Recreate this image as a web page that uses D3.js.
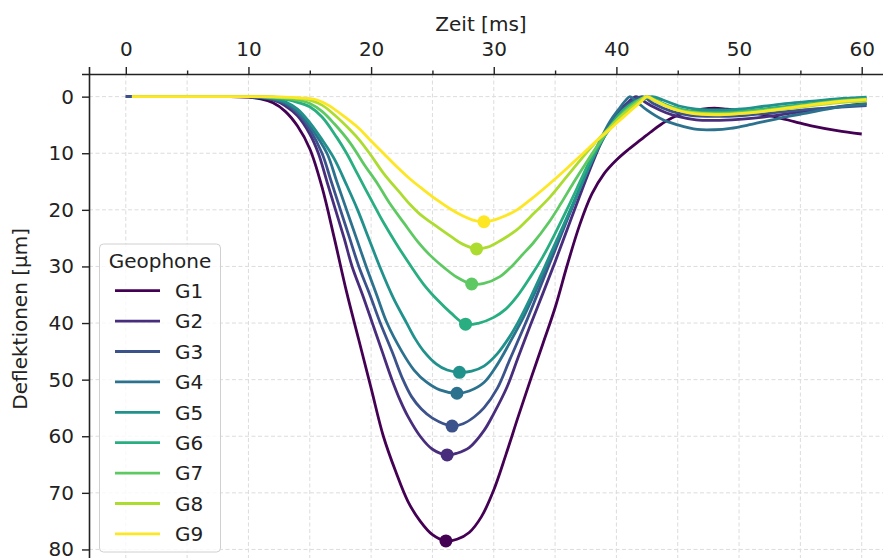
<!DOCTYPE html>
<html>
<head>
<meta charset="utf-8">
<script src="https://cdn.jsdelivr.net/npm/d3@7"></script>
<style>
  html, body { margin: 0; padding: 0; background: #fff; }
  svg { display: block; font-family: "DejaVu Sans", sans-serif; }
</style>
</head>
<body>
<svg id="chart" width="883" height="558"></svg>
<script>
// Geophone deflection traces: [time in ms, deflection in µm]
const geophone1 = [[0,0],[4,0],[8,0],[10,0.1],[11,0.4],[12,1.1],[13,2.6],[14,5.2],[15,9.2],[16,16],[17,25],[18,34.5],[19,43],[20,51.5],[21,60],[22,66.2],[23,71.5],[24,75],[25,77.4],[26.1,78.5],[27,78.2],[28,77],[29,74.2],[30,69.5],[31,63.2],[32,56.5],[33,50],[34,43.7],[35,37.3],[36,29.7],[37,22.7],[38,17.2],[39,13.6],[40,11.2],[41,9.3],[42,7.6],[43,5.9],[44,4.4],[45,3.3],[46,2.6],[47,2.2],[48,2.05],[49,2.2],[50,2.4],[51.5,3.0],[53,3.6],[54.5,4.4],[56,5.2],[58,6.0],[60,6.6]];
const geophone2 = [[0,0],[4,0],[8,0],[10,0.05],[11,0.2],[12,0.6],[13,1.6],[14,3.4],[15,6.6],[15.7,10],[16.4,15],[17.1,20],[17.8,25],[18.45,30],[19.3,35],[20.1,40],[20.9,45],[21.7,50],[22.4,53.8],[23,56.5],[24,60],[25,62.3],[26.2,63.3],[27,63],[28,62],[29.2,59],[30,56],[31.1,51.2],[32,46],[33,40.3],[34,34.8],[35,29.2],[36,23.4],[37,17.6],[38,12],[38.7,8.4],[39.5,5],[40.2,2.7],[41,0.9],[41.6,0],[42.3,0.9],[43,1.8],[44,2.8],[45,3.5],[46.5,4.1],[48,4.2],[50,4.0],[52,3.6],[54,3.0],[56,2.4],[58,1.8],[60.4,1.2]];
const geophone3 = [[0,0],[4,0],[8,0],[10,0],[11,0.15],[12,0.5],[13,1.3],[14,2.9],[15,5.8],[16,10],[16.75,15],[17.5,20],[18.25,25],[19,30],[19.9,35],[20.75,40],[21.7,45],[22.6,50],[23.3,53],[24.1,55.2],[25,56.8],[26.6,58.2],[27.5,57.8],[28.4,56.6],[29.2,55],[30.3,51.5],[31.3,46.5],[32.6,40],[33.5,35.2],[34.5,29.8],[35.5,24.4],[36.5,19],[37.5,13.8],[38.7,8],[39.5,5],[40.2,2.9],[41,1.2],[42.1,0],[43,1.2],[44.5,2.6],[46,3.3],[48,3.5],[50,3.4],[52,3.0],[54,2.6],[56,2.2],[58,1.9],[60.4,1.6]];
const geophone4 = [[0.5,0],[4,0],[8,0],[10,0],[11,0.1],[12,0.4],[13,1.1],[14,2.6],[15,5.2],[16.4,10],[17.2,15],[18,20],[18.8,25],[19.6,30],[20.45,35],[21.3,40],[22.5,45],[23.5,48.3],[24.5,50.4],[25.6,51.8],[27,52.4],[28,52],[29.2,50.5],[30.3,47.3],[31.3,43.5],[32.3,39.5],[33,36.3],[34,31.5],[35,26.5],[36,21.4],[37,16.3],[38,11],[38.7,7.6],[39.5,4.3],[40.2,2.2],[40.7,0.8],[41.1,0],[41.6,0.8],[42.5,2.4],[43.8,4.1],[45,5.0],[46.6,5.8],[48,5.85],[49.3,5.6],[51,4.9],[52.5,4.2],[54,3.5],[55.5,2.9],[57.4,2.1],[59,1.6],[60.4,1.3]];
const geophone5 = [[0.5,0],[4,0],[8,0],[10,0],[11,0.1],[12,0.3],[13,0.9],[14,2.2],[15,4.6],[16,7.6],[17,11],[18,15.6],[18.9,20],[19.8,25],[20.7,30],[21.8,35.5],[22.9,40],[23.6,42.8],[24.3,45],[25.3,47.2],[26.2,48.3],[27.2,48.7],[28.2,48.5],[29.2,47.6],[30.3,45.4],[31.3,42.4],[32,39.8],[33,35.5],[34,30.8],[35,26],[36,21.2],[37,16.3],[38,11.4],[38.7,8.3],[39.5,5.5],[40.2,3.6],[41,2.1],[42,0.8],[42.9,0],[43.8,0.6],[45.2,1.7],[46.5,2.2],[47.9,2.35],[50,2.2],[52,1.7],[54,1.2],[56,0.8],[58,0.4],[60.4,0.1]];
const geophone6 = [[0.5,0],[4,0],[8,0],[10,0],[11,0.05],[12,0.2],[13,0.5],[14,1.0],[15,1.8],[16,3.6],[17.2,7.2],[18,10],[18.9,13.7],[20,18.2],[21,22.2],[22,25.8],[23.2,29.8],[24.3,33.2],[25.4,35.9],[26.5,38.2],[27.7,40.2],[28.8,40],[30,39],[31,37.5],[31.9,35.3],[33,31.8],[34,28.3],[35,24.2],[36,19.8],[37,15.2],[37.8,11.5],[38.7,8],[39.5,5.2],[40.2,3.2],[41,1.6],[42,0.4],[42.6,0],[43.3,0.7],[44.5,1.8],[46,2.5],[48,2.8],[50,2.6],[52,2.2],[54,1.7],[56,1.2],[58,0.7],[60.4,0.3]];
const geophone7 = [[0.5,0],[4,0],[8,0],[10,0],[11,0],[12,0.1],[13,0.3],[14,0.6],[15,1.2],[16,2.6],[17,4.8],[18.3,8.2],[19.5,12.2],[20.5,15.3],[21.5,18.8],[22.7,22.4],[23.8,25.6],[24.8,28],[26,30.3],[27,31.9],[28.2,33.1],[29.2,33],[30.5,31.8],[31.5,29.9],[32.3,28],[33.2,25.9],[34.5,22.2],[35.5,18.8],[36.5,15.2],[37.5,11.8],[38.7,7.9],[39.5,5.5],[40.3,3.4],[41.2,1.6],[42,0.4],[42.5,0],[43.2,0.7],[44.5,1.9],[46,2.7],[48,3.0],[50,2.8],[52,2.4],[54,1.9],[56,1.3],[58,0.8],[60.4,0.5]];
const geophone8 = [[0.5,0],[4,0],[8,0],[11,0],[12,0.05],[13,0.15],[14,0.3],[15,0.6],[16,1.5],[17,3.2],[18.3,5.9],[19.1,7.8],[20,10.4],[21,13.5],[22.4,17.1],[23.2,19.1],[24,20.8],[25,22.4],[26.5,24.7],[27.5,26.1],[28.6,26.9],[29.5,26.6],[30.5,25.5],[31.9,23.5],[33,21.2],[34.6,17.7],[36,14],[37.3,10.6],[38.5,7.6],[39.3,5.8],[40,4.2],[41,2.3],[42,0.6],[42.4,0],[43,0.6],[44,1.6],[45,2.4],[46,2.8],[48,3.1],[50,3.0],[52,2.6],[54,2.1],[56,1.6],[58,1.1],[60.4,0.8]];
const geophone9 = [[0.5,0],[4,0],[8,0],[11,0],[12,0.05],[12.9,0.1],[14,0.2],[15,0.35],[15.6,0.6],[16.5,1.5],[17.8,3.5],[19,5.6],[19.9,7.6],[21,10],[22.1,12.4],[23.2,14.6],[24.3,16.5],[25.4,18.3],[26.5,19.9],[27.5,21.1],[28.3,21.8],[29.2,22.1],[30,21.8],[31,21],[31.9,20],[33,18.2],[34.6,15.3],[36,12.6],[37.3,10],[38.5,7.6],[39.3,6.1],[40,4.7],[41,2.8],[42,0.9],[42.5,0],[43,0.5],[44,1.6],[45,2.4],[46,2.9],[48,3.2],[50,3.0],[52,2.6],[54,2.0],[56,1.4],[58,0.9],[60.4,0.5]];

const seriesNames = ["G1", "G2", "G3", "G4", "G5", "G6", "G7", "G8", "G9"];
const seriesData = [geophone1, geophone2, geophone3, geophone4, geophone5, geophone6, geophone7, geophone8, geophone9];

const timeTicks = [0, 10, 20, 30, 40, 50, 60];
const timeMinorTicks = [5, 15, 25, 35, 45, 55];
const deflTicks = [0, 10, 20, 30, 40, 50, 60, 70, 80];

const xLabel = "Zeit [ms]";
const yLabel = "Deflektionen [µm]";
const legendTitle = "Geophone";

// ---- layout ----
const svg = d3.select("#chart");
const plot = { left: 89, top: 74, right: 898.5, bottom: 563.6 };

const x = d3.scaleLinear().domain([-3, 63]).range([plot.left, plot.right]);
const y = d3.scaleLinear().domain([-4, 82.5]).range([plot.top, plot.bottom]);
const color = i => d3.interpolateViridis(i / (seriesNames.length - 1));

// grid
const grid = svg.append("g").attr("stroke", "#dcdcdc").attr("stroke-width", 1)
  .attr("stroke-dasharray", "4,2.5");
grid.selectAll("line.v").data(timeTicks.concat(timeMinorTicks)).join("line")
  .attr("x1", d => x(d)).attr("x2", d => x(d))
  .attr("y1", plot.top).attr("y2", plot.bottom);
grid.selectAll("line.h").data(deflTicks).join("line")
  .attr("x1", plot.left).attr("x2", plot.right)
  .attr("y1", d => y(d)).attr("y2", d => y(d));

// traces and their maximum deflection markers
const line = d3.line().x(d => x(d[0])).y(d => y(d[1])).curve(d3.curveCatmullRom.alpha(0.5));
seriesData.forEach((s, i) => {
  svg.append("path").datum(s)
    .attr("fill", "none").attr("stroke", color(i))
    .attr("stroke-width", 2.8).attr("stroke-linejoin", "round")
    .attr("d", line);
});
seriesData.forEach((s, i) => {
  const peak = d3.greatest(s, d => d[1]);
  svg.append("circle")
    .attr("cx", x(peak[0])).attr("cy", y(peak[1])).attr("r", 6.5)
    .attr("fill", color(i));
});

// axes
svg.append("g").attr("transform", `translate(0,${plot.top})`)
  .call(d3.axisTop(x).tickValues(timeTicks).tickSize(7).tickPadding(11).tickFormat(d3.format("d")))
  .call(g => g.selectAll(".tick text").attr("dy", 0));
svg.append("g").attr("transform", `translate(0,${plot.top})`)
  .call(d3.axisTop(x).tickValues(timeMinorTicks).tickSize(3.5).tickFormat(""))
  .call(g => g.select(".domain").remove());
svg.append("g").attr("transform", `translate(${plot.left},0)`)
  .call(d3.axisLeft(y).tickValues(deflTicks).tickSize(7).tickPadding(8).tickFormat(d3.format("d")));

svg.selectAll(".domain").attr("stroke", "#222").attr("stroke-width", 1.6);
svg.selectAll(".tick line").attr("stroke", "#222").attr("stroke-width", 1.4);
svg.selectAll(".tick text").attr("font-family", "DejaVu Sans").attr("font-size", 20).attr("fill", "#222");

svg.append("text").attr("x", 481).attr("y", 31)
  .attr("text-anchor", "middle").attr("font-size", 20).attr("fill", "#222").text(xLabel);
svg.append("text").attr("transform", `translate(27,${(plot.top + plot.bottom) / 2}) rotate(-90)`)
  .attr("text-anchor", "middle").attr("font-size", 20).attr("fill", "#222").text(yLabel);

// legend
const lg = svg.append("g");
lg.append("rect").attr("x", 99.5).attr("y", 244).attr("width", 121).attr("height", 308)
  .attr("rx", 4).attr("fill", "#fff").attr("fill-opacity", 0.8)
  .attr("stroke", "#d0d0d0").attr("stroke-width", 1);
lg.append("text").attr("x", 160).attr("y", 268).attr("text-anchor", "middle")
  .attr("font-size", 20).attr("fill", "#222").text(legendTitle);
seriesNames.forEach((name, i) => {
  const ly = 290.7 + i * 30.4;
  lg.append("line").attr("x1", 115).attr("x2", 160).attr("y1", ly).attr("y2", ly)
    .attr("stroke", color(i)).attr("stroke-width", 2.8);
  lg.append("text").attr("x", 175).attr("y", ly + 7.3)
    .attr("font-size", 20).attr("fill", "#222").text(name);
});
</script>
</body>
</html>
